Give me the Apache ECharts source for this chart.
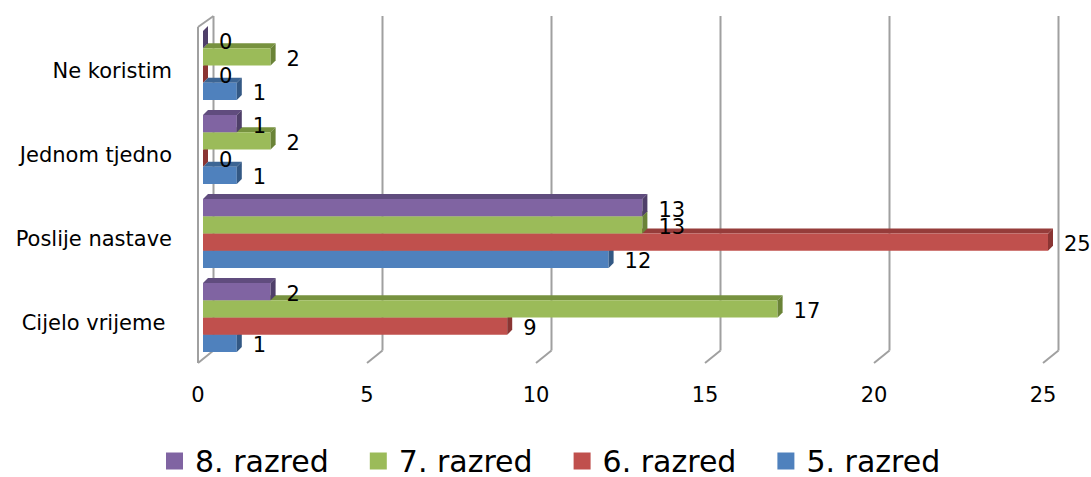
<!DOCTYPE html>
<html>
<head>
<meta charset="utf-8">
<script src="https://cdn.jsdelivr.net/npm/echarts@6/dist/echarts.min.js"></script>
<style>
html,body{margin:0;padding:0;background:#fff;}
#chart{width:1091px;height:477px;}
</style>
</head>
<body>
<div id="chart"></div>
<script>
// Categories bottom -> top
var categories = ['Cijelo vrijeme ', 'Poslije nastave', 'Jednom tjedno', 'Ne koristim'];
var razred5 = [1, 12, 1, 1];
var razred6 = [9, 25, 0, 0];
var razred7 = [17, 13, 2, 2];
var razred8 = [2, 13, 1, 0];
var seriesNames = ['5. razred', '6. razred', '7. razred', '8. razred'];
var legendOrder = ['8. razred', '7. razred', '6. razred', '5. razred'];
var xTicks = [0, 5, 10, 15, 20, 25];

var FONT = 'DejaVu Sans';
var palettes = [
  {front: '#4F81BD', top: '#3C6594', side: '#335884'},
  {front: '#C0504D', top: '#963C3A', side: '#8A3533'},
  {front: '#9BBB59', top: '#77923F', side: '#6A8337'},
  {front: '#8064A2', top: '#604C7E', side: '#4F3F69'}
];
var seriesData = [razred5, razred6, razred7, razred8];

function makeBarRender(s) {
  var pal = palettes[s];
  return function (params, api) {
    var v = api.value(0), c = api.value(1);
    var p0 = api.coord([0, c]);
    var p1 = api.coord([v, c]);
    var band = api.size([0, 1])[1];
    var barH = band * 0.205;
    var groupH = barH * 4;
    var yb = p0[1] + groupH / 2 - s * barH;
    var yt = yb - barH;
    var x0 = p0[0], x1 = p1[0];
    var dx = 5, dy = 5;
    return {
      type: 'group',
      children: [
        {type: 'polygon', shape: {points: [[x0, yt], [x0 + dx, yt - dy], [x1 + dx, yt - dy], [x1, yt]]}, style: {fill: pal.top}},
        {type: 'rect', shape: {x: x0, y: yt, width: Math.max(x1 - x0, 0), height: barH}, style: {fill: pal.front}},
        {type: 'polygon', shape: {points: [[x1, yt], [x1 + dx, yt - dy], [x1 + dx, yb - dy], [x1, yb]]}, style: {fill: pal.side}},
        {type: 'text', z2: 100, style: {text: String(v), x: x1 + 16, y: (yt + yb) / 2 + 2, fill: '#000', font: '21px "' + FONT + '"', textAlign: 'left', textVerticalAlign: 'middle'}}
      ]
    };
  };
}

function wallRender(params, api) {
  var v = api.value(0);
  var cs = params.coordSys;
  var xf = api.coord([v, 0])[0];
  var bottom = cs.y + cs.height;
  var top = cs.y;
  var fx = xf - 5, bx = xf + 10.5;
  var fy = bottom + 3.5, by = bottom - 9;
  var ty = top - 7.5;
  var st = {stroke: '#A0A0A0', lineWidth: 2, fill: null};
  var ch = [
    {type: 'line', shape: {x1: fx, y1: fy, x2: bx, y2: by}, style: st},
    {type: 'line', shape: {x1: bx, y1: by, x2: bx, y2: ty}, style: st}
  ];
  if (v === 0) {
    ch.push({type: 'line', shape: {x1: fx, y1: fy, x2: fx, y2: ty + 11}, style: st});
    ch.push({type: 'line', shape: {x1: fx, y1: ty + 11, x2: bx, y2: ty}, style: st});
  }
  return {type: 'group', children: ch};
}

var series = [{
  name: 'wall',
  type: 'custom',
  renderItem: wallRender,
  encode: {x: 0},
  data: xTicks.map(function (t) { return [t, 0]; }),
  silent: true,
  z: 1
}];
for (var s = 0; s < 4; s++) {
  series.push({
    name: seriesNames[s],
    type: 'custom',
    renderItem: makeBarRender(s),
    encode: {x: 0, y: 1},
    itemStyle: {color: palettes[s].front},
    data: seriesData[s].map(function (val, i) { return [val, i]; }),
    z: 2
  });
}

var chart = echarts.init(document.getElementById('chart'), null, {renderer: 'svg'});
chart.setOption({
  animation: false,
  textStyle: {fontFamily: FONT},
  grid: {left: 203, right: 43, top: 23.5, bottom: 117.5, containLabel: false},
  xAxis: {
    type: 'value', min: 0, max: 25, interval: 5,
    axisLine: {show: false}, axisTick: {show: false}, splitLine: {show: false},
    axisLabel: {fontSize: 21, color: '#000', fontFamily: FONT, margin: 25, padding: [0, 10, 0, 0]}
  },
  yAxis: {
    type: 'category', data: categories,
    axisLine: {show: false}, axisTick: {show: false}, splitLine: {show: false},
    axisLabel: {fontSize: 21, color: '#000', fontFamily: FONT, margin: 31, verticalAlign: 'top', lineHeight: 10}
  },
  legend: {
    data: legendOrder,
    left: 166, top: 446, padding: 0,
    icon: 'rect', itemWidth: 17, itemHeight: 17, itemGap: 41,
    textStyle: {fontSize: 30, lineHeight: 30, color: '#000', fontFamily: FONT, padding: [0, 0, 0, 7]}
  },
  series: series
});
</script>
</body>
</html>
